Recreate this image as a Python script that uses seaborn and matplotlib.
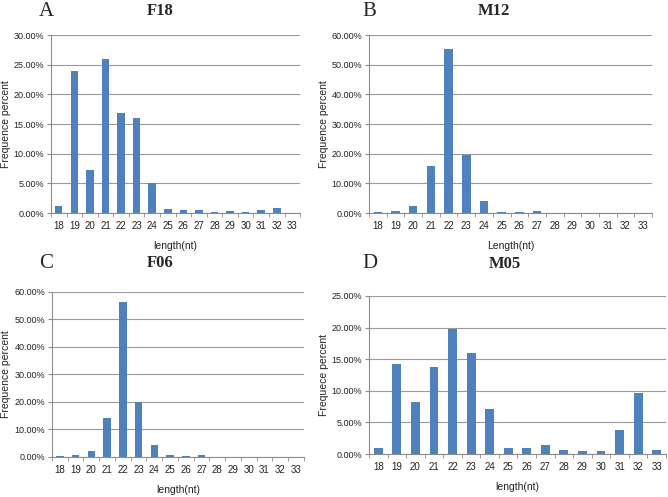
import numpy as np
import pandas as pd
import matplotlib.pyplot as plt
import seaborn as sns
from matplotlib.ticker import PercentFormatter, FixedLocator

# 数据 (读图估计, 单位 %)
lengths = list(range(18, 34))
f18 = [1.1, 24.0, 7.3, 26.0, 16.8, 16.0, 5.0, 0.65, 0.45, 0.5, 0.2, 0.35, 0.2, 0.55, 0.9, 0.0]
m12 = [0.2, 0.6, 2.3, 16.0, 55.3, 19.6, 4.1, 0.4, 0.3, 0.6, 0, 0, 0, 0, 0, 0]
f06 = [0.2, 0.6, 2.3, 14.0, 56.2, 20.0, 4.5, 0.6, 0.4, 0.8, 0, 0, 0, 0, 0, 0]
m05 = [0.9, 14.3, 8.2, 13.7, 19.8, 16.0, 7.1, 1.0, 1.0, 1.5, 0.6, 0.5, 0.55, 3.8, 9.7, 0.7]

panels = [
    # letter, title, values, ymax, ystep, xlabel, ylabel, axes rect, letter pos, title pos
    ('A', 'F18', f18, 30, 5, 'length(nt)', 'Frequence percent',
     [0.0763, 0.5714, 0.373, 0.358], (39, 12), (160, 11)),
    ('B', 'M12', m12, 60, 10, 'Length(nt)', 'Frequence percent',
     [0.5524, 0.5714, 0.4237, 0.358], (362, 11), (494, 11)),
    ('C', 'F06', f06, 60, 10, 'length(nt)', 'Frequence percent',
     [0.0778, 0.0805, 0.377, 0.332], (39, 264), (160, 263)),
    ('D', 'M05', m05, 25, 5, 'length(nt)', 'Frequece percent',
     [0.5524, 0.0865, 0.4446, 0.318], (362, 264), (505, 264)),
]

sns.set_style('white')
plt.rcParams['font.family'] = ['Liberation Sans', 'DejaVu Sans']

W, H = 668, 497
fig = plt.figure(figsize=(W / 100, H / 100), dpi=100)

for letter, title, vals, ymax, ystep, xlab, ylab, rect, lpos, tpos in panels:
    ax = fig.add_axes(rect)
    df = pd.DataFrame({'length': [str(v) for v in lengths], 'pct': vals})
    sns.barplot(data=df, x='length', y='pct', color='#4F81BD', saturation=1,
                width=0.48, linewidth=0, ax=ax, zorder=3)
    ax.set_xlim(-0.5, len(lengths) - 0.5)
    ax.set_ylim(0, ymax)
    ax.set_yticks(np.arange(0, ymax + 0.01, ystep))
    ax.yaxis.set_major_formatter(PercentFormatter(decimals=2))
    ax.yaxis.grid(True, color='#9a9a9a', linewidth=0.8, zorder=0)
    ax.set_axisbelow(True)
    for s in ['top', 'right']:
        ax.spines[s].set_visible(False)
    for s in ['left', 'bottom']:
        ax.spines[s].set_color('#8c8c8c')
        ax.spines[s].set_linewidth(0.8)
    # Excel 风格: 刻度在类别之间
    ax.xaxis.set_minor_locator(FixedLocator(np.arange(-0.5, len(lengths), 1)))
    ax.tick_params(axis='x', which='major', length=0, labelsize=7, pad=6, colors='#222222')
    ax.tick_params(axis='x', which='minor', length=3, color='#8c8c8c', direction='out', bottom=True)
    ax.tick_params(axis='y', length=3, color='#8c8c8c', direction='out', left=True,
                   labelsize=6.5, pad=2, colors='#222222')
    ax.set_xlabel(xlab, fontsize=7.5, labelpad=7, color='#222222')
    ax.set_ylabel(ylab, fontsize=7.5, labelpad=2, color='#222222')
    fig.text(lpos[0] / W, 1 - lpos[1] / H, letter, family='Liberation Serif',
             fontsize=15, va='center', ha='left')
    fig.text(tpos[0] / W, 1 - tpos[1] / H, title, family='Liberation Serif',
             fontsize=12, fontweight='bold', va='center', ha='center')

plt.savefig('out.png', dpi=100)
